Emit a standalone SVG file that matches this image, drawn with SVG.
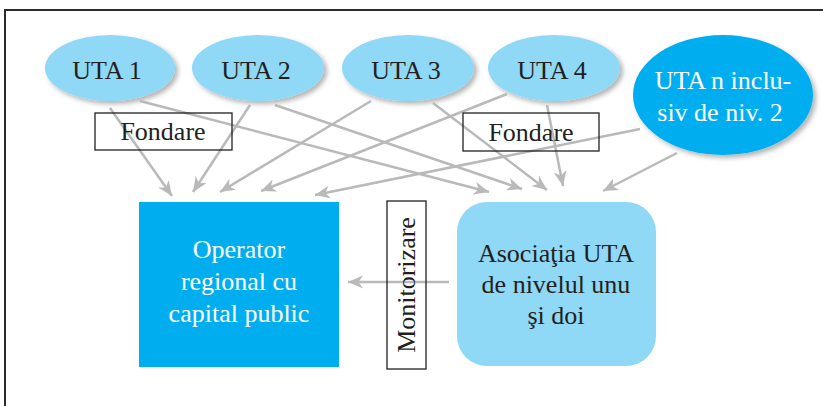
<svg xmlns="http://www.w3.org/2000/svg" width="823" height="406" viewBox="0 0 823 406">
<defs>
<filter id="sh" x="-20%" y="-20%" width="150%" height="150%">
<feDropShadow dx="3" dy="3" stdDeviation="2.5" flood-color="#000" flood-opacity="0.3"/>
</filter>
<marker id="ah" markerUnits="userSpaceOnUse" markerWidth="17" markerHeight="14" refX="15" refY="6.5" orient="auto">
<path d="M0,0 L15,6.5 L0,13 L4.5,6.5 z" fill="#b8b9bb"/>
</marker>
<style>
.t{font-family:"Liberation Serif","Times New Roman",serif;font-size:26px;fill:#231f20;text-anchor:middle}
.w{fill:#ffffff}
.lb{fill:#8fd8f6}
.db{fill:#00aeef}
.c line{stroke:#b8b9bb;stroke-width:2.5;fill:none;marker-end:url(#ah)}
.box{fill:none;stroke:#231f20;stroke-width:1.3}
</style>
</defs>
<rect width="823" height="406" fill="#ffffff"/>
<rect x="5" y="10" width="840" height="420" fill="none" stroke="#2b2b2b" stroke-width="2"/>

<g id="uta1"><ellipse class="lb" cx="110" cy="68" rx="65" ry="33" filter="url(#sh)"/><text class="t" x="107" y="79">UTA 1</text></g>
<g id="uta2"><ellipse class="lb" cx="258" cy="68" rx="66" ry="33" filter="url(#sh)"/><text class="t" x="256" y="79">UTA 2</text></g>
<g id="uta3"><ellipse class="lb" cx="408" cy="68" rx="66" ry="33" filter="url(#sh)"/><text class="t" x="406" y="79">UTA 3</text></g>
<g id="uta4"><ellipse class="lb" cx="554" cy="68" rx="66" ry="33" filter="url(#sh)"/><text class="t" x="552" y="79">UTA 4</text></g>
<g id="utan"><ellipse class="db" cx="723" cy="95" rx="90" ry="60" filter="url(#sh)"/><text class="t w" x="723" y="89">UTA n inclu-</text><text class="t w" x="720" y="121">siv de niv. 2</text></g>

<g id="operator"><rect class="db" x="139" y="202" width="200" height="165"/><text class="t" x="239" y="258" fill="#ffffff" style="fill:#fff">Operator</text><text class="t" x="239" y="290" style="fill:#fff">regional cu</text><text class="t" x="239" y="322" style="fill:#fff">capital public</text></g>
<g id="asociatia"><rect class="lb" x="457" y="202" width="199" height="164" rx="30" ry="30"/><text class="t" x="556" y="262">Asociaţia UTA</text><text class="t" x="556" y="293">de nivelul unu</text><text class="t" x="556" y="324">şi doi</text></g>

<g class="c" id="connectors">
<line x1="110" y1="108" x2="172" y2="196"/>
<line x1="250" y1="105" x2="193" y2="192"/>
<line x1="371" y1="101" x2="220" y2="192"/>
<line x1="507" y1="94" x2="261" y2="191"/>
<line x1="640" y1="129" x2="315" y2="195"/>
<line x1="140" y1="101" x2="489" y2="192"/>
<line x1="275" y1="105" x2="522" y2="189"/>
<line x1="433" y1="103" x2="547" y2="190"/>
<line x1="547" y1="105" x2="563" y2="186"/>
<line x1="677" y1="153" x2="603" y2="191"/>
<line x1="449" y1="282" x2="348" y2="282"/>
</g>

<g id="fondare1"><rect class="box" x="95" y="113" width="137" height="37"/><text class="t" x="163" y="140">Fondare</text></g>
<g id="fondare2"><rect class="box" x="463" y="113" width="136" height="38"/><text class="t" x="531" y="141">Fondare</text></g>
<g id="monitorizare"><rect class="box" x="387" y="201" width="39" height="168"/><text class="t" transform="translate(415,285) rotate(-90)">Monitorizare</text></g>
</svg>
